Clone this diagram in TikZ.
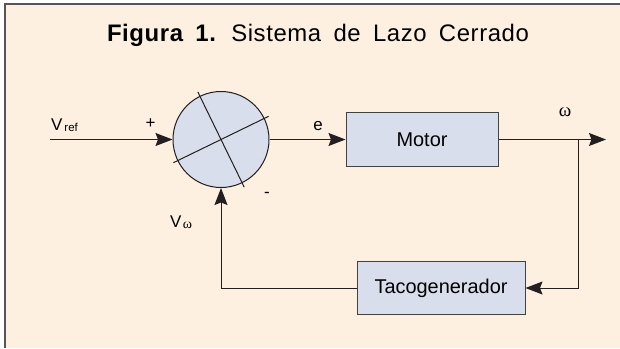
\documentclass[tikz,border=0pt]{standalone}
\usepackage{fontspec}
\setmainfont{Liberation Sans}
\newfontfamily\symfont{Liberation Serif}
\newfontfamily\titlefont[LetterSpace=2.5,WordSpace=1.7]{Liberation Sans}
\usetikzlibrary{arrows.meta,calc}
\definecolor{cream}{HTML}{FDF0E0}
\definecolor{boxfill}{HTML}{D9DEEC}
\definecolor{ink}{HTML}{231F20}
\definecolor{frame}{HTML}{555555}
\tikzset{
  blockbox/.style={draw=ink!85, line width=1bp, fill=boxfill, rectangle, inner sep=0pt,
    font=\fontsize{20}{20}\selectfont},
  sumcirc/.style={draw=ink, line width=1bp, fill=boxfill, circle, inner sep=0pt, minimum size=96bp},
  sig/.style={draw=ink, line width=1bp, -{Stealth[length=17bp,width=13bp,inset=2.5bp]}},
  wire/.style={draw=ink, line width=1bp},
  lbl/.style={inner sep=0pt, font=\fontsize{17}{17}\selectfont},
}
\begin{document}
\begin{tikzpicture}[x=1bp,y=-1bp]
\useasboundingbox (0,0) rectangle (620,348);
\fill[white] (0,0) rectangle (620,348);
\fill[cream] (5,4) rectangle (620,348);
\draw[frame, line width=1.2bp] (5,348) -- (5,4) -- (620,4);
% title
\node[inner sep=0pt, anchor=base, font=\fontsize{24}{24}\titlefont] (title) at (318,41.5) {\textbf{Figura 1.} Sistema de Lazo Cerrado};
% blocks
\node[sumcirc] (s) at (221,139.5) {};
\draw[wire] ($(s)+(-47.6,23.2)$) -- ($(s)+(47.6,-23.2)$);
\draw[wire] ($(s)+(-23.2,-47.6)$) -- ($(s)+(23.2,47.6)$);
\node[blockbox, minimum width=152bp, minimum height=54bp] (motor) at (422,139.5) {Motor};
\node[blockbox, minimum width=168bp, minimum height=53bp] (taco) at (441,288) {Tacogenerador};
% coordinates
\coordinate (vin) at (50,139.5);
\coordinate (out) at (606,139.5);
\coordinate (br) at (578,139.5);
% connectors
\draw[sig] (vin) -- (s);
\draw[sig] (s) -- (motor);
\draw[sig] (motor) -- (out);
\draw[sig] (br) |- (taco);
\draw[sig] (taco) -| (s);
% labels
\node[lbl, anchor=base west] (vref) at (51,130) {V\hspace{2bp}\raisebox{-1.5bp}{\fontsize{11.5}{11.5}\selectfont ref}};
\node[lbl] (plus) at (150.5,124) {+};
\node[lbl] (minus) at (267,195) {-};
\node[lbl, anchor=base] (e) at (318,130) {e};
\node[inner sep=0pt, font=\fontsize{19}{19}\symfont] (w) at (565,112) {ω};
\node[lbl, anchor=base west] (vw) at (170,227) {V\hspace{1.5bp}\raisebox{-1.5bp}{\fontsize{14}{14}\symfont ω}};
\end{tikzpicture}
\end{document}
